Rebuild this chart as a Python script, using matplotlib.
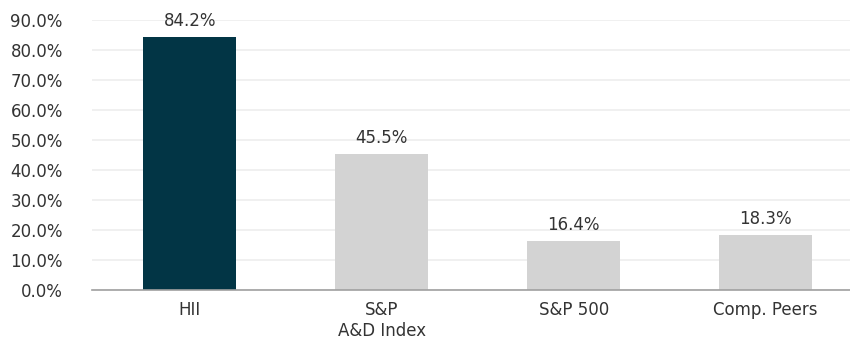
import matplotlib.pyplot as plt

categories = ["HII", "S&P\nA&D Index", "S&P 500", "Comp. Peers"]
values = [84.2, 45.5, 16.4, 18.3]
colors = ["#023545", "#d3d3d3", "#d3d3d3", "#d3d3d3"]
yticks = [0, 10, 20, 30, 40, 50, 60, 70, 80, 90]

plt.rcParams['font.family'] = ['DejaVu Sans']
text_color = "#333333"

fig = plt.figure(figsize=(8.5, 3.45), dpi=100)
ax = fig.add_axes([92 / 850, 1 - 290 / 345, 758 / 850, 270 / 345])

x = range(len(categories))
ax.bar(x, values, width=0.485, color=colors, zorder=3)

for i, v in enumerate(values):
    ax.annotate(f"{v:.1f}%", (i, v), xytext=(0, 5), textcoords="offset points",
                ha="center", va="bottom", fontsize=12, color=text_color)

ax.set_xlim(-0.51, 3.44)
ax.set_ylim(0, 90)
ax.set_yticks(yticks)
ax.set_yticklabels([f"{t:.1f}%" for t in yticks])
ax.set_xticks(list(x))
ax.set_xticklabels(categories)
ax.tick_params(axis="both", length=0, labelsize=12, colors=text_color)
ax.tick_params(axis="y", pad=21)
ax.tick_params(axis="x", pad=8)

ax.grid(axis="y", color="#eeeeee", linewidth=1.2, zorder=0)
for s in ["top", "right", "left"]:
    ax.spines[s].set_visible(False)
ax.spines["bottom"].set_color("#a0a0a0")
ax.spines["bottom"].set_linewidth(1.2)
ax.spines["bottom"].set_zorder(4)

fig.savefig("out.png", dpi=100)
